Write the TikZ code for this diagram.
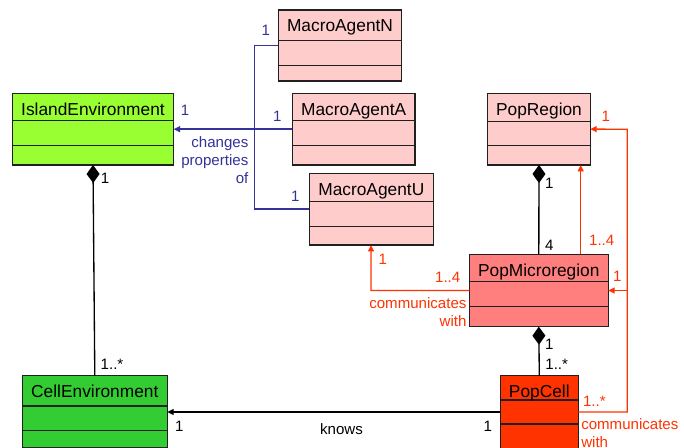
\documentclass[tikz,border=0pt]{standalone}
\usepackage{fontspec}
\setmainfont{Liberation Sans}
\usetikzlibrary{arrows.meta,calc}
\definecolor{islandgreen}{HTML}{99FF33}
\definecolor{cellgreen}{HTML}{33CC33}
\definecolor{lightpink}{HTML}{FFCCCC}
\definecolor{midpink}{HTML}{FF7F7F}
\definecolor{popred}{HTML}{FF3300}
\definecolor{umlblue}{HTML}{333399}
\definecolor{umlred}{HTML}{FF3300}
\definecolor{border}{HTML}{202020}
\tikzset{
  classbox/.style={draw=border, line width=1.1pt, rectangle, inner sep=0pt, outer sep=0pt, anchor=north west},
  divline/.style={draw=border, line width=1pt},
  classtitle/.style={font=\fontsize{13}{15}\selectfont, inner sep=0pt, anchor=base},
  lbl/.style={font=\fontsize{11.3}{13.7}\selectfont, inner sep=0pt},
  bluelbl/.style={lbl, text=umlblue},
  redlbl/.style={lbl, text=umlred},
  blacklbl/.style={lbl, text=black},
  blueline/.style={draw=umlblue, line width=1pt},
  redline/.style={draw=umlred, line width=1pt},
  blackline/.style={draw=black, line width=1pt},
  tip/.style={-{Triangle[length=4.8pt,width=4.5pt]}},
  comp/.style={{Diamond[length=13.5pt,width=9.75pt]}-}
}
% name, x, y, w, h, div1, div2, fill, title
\newcommand{\umlclass}[9]{%
  \node[classbox, fill=#8, minimum width=#4*0.75pt, minimum height=#5*0.75pt] (#1) at (#2,#3) {};
  \draw[divline] ([yshift=-#6*0.75pt]#1.north west) -- ([yshift=-#6*0.75pt]#1.north east);
  \draw[divline] ([yshift=-#7*0.75pt]#1.north west) -- ([yshift=-#7*0.75pt]#1.north east);
  \node[classtitle] (#1-t) at ([yshift=-22*0.75pt]#1.north) {#9};
}
\begin{document}
\begin{tikzpicture}[x=0.75pt,y=-0.75pt]
\fill[white] (0,0) rectangle (684,448);
\useasboundingbox (0,0) rectangle (684,448);

% classes
\umlclass{island}{12.3}{93.3}{161.4}{71.7}{27.5}{52.2}{islandgreen}{IslandEnvironment}
\umlclass{maN}{278.3}{10}{123.4}{71}{30.5}{55.5}{lightpink}{MacroAgentN}
\umlclass{maA}{292.3}{93.3}{122.7}{71.7}{27.5}{52.5}{lightpink}{MacroAgentA}
\umlclass{maU}{309.3}{173.3}{124}{71.7}{28.3}{53.3}{lightpink}{MacroAgentU}
\umlclass{popregion}{487.7}{93.3}{102.6}{71.7}{28.3}{52.3}{lightpink}{PopRegion}
\umlclass{popmicro}{469.3}{254.3}{139}{72.4}{27.4}{52.4}{midpink}{PopMicroregion}
\umlclass{popcell}{500.3}{375.7}{78}{72.6}{24.3}{48.3}{popred}{PopCell}
\umlclass{cellenv}{22.3}{375.7}{145}{71.6}{30.3}{55}{cellgreen}{CellEnvironment}

% blue connectors
\coordinate (bus) at (254.3,129);
\draw[blueline,tip] (maA.west) -- (maA.west -| island.east);
\draw[blueline] (maN.west) -| (bus) |- (maU.west);
\node[bluelbl] (b1) at (265.7,30) {1};
\node[bluelbl] (b2) at (185,110) {1};
\node[bluelbl] (b3) at (277.3,116.7) {1};
\node[bluelbl] (b4) at (295.3,196.7) {1};
\node[bluelbl, align=right, anchor=east] (chg) at (248.6,160) {changes\\[0pt]properties\\of};

% black compositions
\draw[blackline,comp] (island.south) -- (cellenv.north);
\node[blacklbl] (k1) at (105,178.3) {1};
\node[blacklbl] (k2) at (112,364) {1..*};
\draw[blackline,comp] (popregion.south) -- (popmicro.north);
\node[blacklbl] (k3) at (549.3,183.3) {1};
\node[blacklbl] (k4) at (549.3,245) {4};
\draw[blackline,comp] (popmicro.south) -- (popcell.north);
\node[blacklbl] (k5) at (549.3,344) {1};
\node[blacklbl] (k6) at (556.7,364) {1..*};

% knows
\draw[blackline,tip] (popcell.west) -- (popcell.west -| cellenv.east);
\node[blacklbl] (k7) at (179.3,426.7) {1};
\node[blacklbl] (knows) at (341.5,429.3) {knows};
\node[blacklbl] (k8) at (487.7,426.7) {1};

% red connectors
\coordinate (upx) at (580.7,0);
\draw[redline,tip] (upx |- popmicro.north) -- (upx |- popregion.south);
\node[redlbl] (r1) at (601.7,240) {1..4};

\coordinate (rtop) at (627.3,129.2);
\draw[redline,tip] (popcell.east) -| (rtop) -- (popregion.east);
\draw[redline,tip] (popmicro.east -| rtop) -- (popmicro.east);
\node[redlbl] (r2) at (605.7,116.7) {1};
\node[redlbl] (r3) at (617.3,276.7) {1};
\node[redlbl] (r4) at (594.3,401) {1..*};
\node[redlbl, align=left, anchor=west] (cw2) at (581,433.4) {communicates\\with};

\coordinate (lcorner) at (371,290.5);
\draw[redline,tip] (popmicro.west) -- (lcorner) -- (lcorner |- maU.south);
\node[redlbl] (r5) at (382.7,259) {1};
\node[redlbl] (r6) at (447.7,277.3) {1..4};
\node[redlbl, align=right, anchor=east] (cw1) at (466.7,312) {communicates\\with};
\end{tikzpicture}
\end{document}
